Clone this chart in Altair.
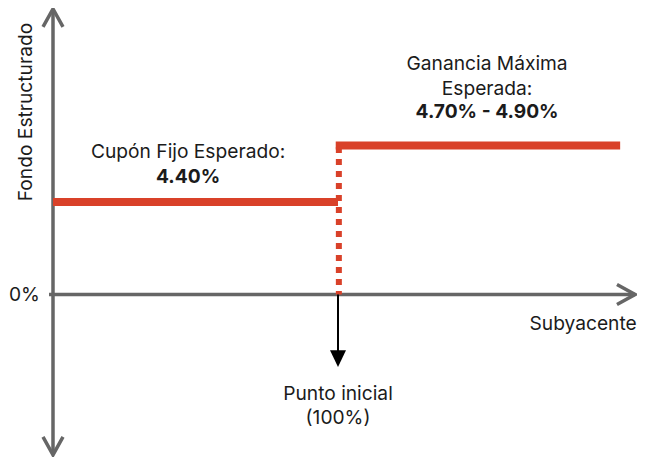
import altair as alt
import pandas as pd

# ---------------- schematic data ----------------
# underlying ("Subyacente") positions: start, initial point (100%), end of payoff line
x_start = 0
x_strike = 100
x_end = 199
# drawn (schematic) fund levels
coupon_level = 4.4        # Cupón Fijo Esperado 4.40%
max_gain_level = 7.1      # Ganancia Máxima Esperada 4.70% - 4.90%
zero_level = 0

# axis extents (schematic units)
y_axis_top = 13.6
y_axis_bottom = -7.64
x_axis_left = -1.4
x_axis_right = 204.2
strike_arrow_tip = -3.45
strike_arrow_line_end = -2.74

RED = "#D94129"
GRAY = "#666666"
INK = "#1b1b1b"
FONT = "Inter"
FS = 19.2

X_DOMAIN = [-15.79, 204.91]
Y_DOMAIN = [-7.738, 13.643]

xs = alt.Scale(domain=X_DOMAIN, nice=False, zero=False)
ys = alt.Scale(domain=Y_DOMAIN, nice=False, zero=False)


def X(field="x"):
    return alt.X(f"{field}:Q", scale=xs, axis=None)


def Y(field="y"):
    return alt.Y(f"{field}:Q", scale=ys, axis=None)


# ---------------- axes ----------------
axis_df = pd.DataFrame({
    "x": [x_start, x_axis_left],
    "x2": [x_start, x_axis_right],
    "y": [y_axis_top, zero_level],
    "y2": [y_axis_bottom, zero_level],
})
axes = alt.Chart(axis_df).mark_rule(color=GRAY, strokeWidth=3.5).encode(
    x=X(), x2="x2:Q", y=Y(), y2="y2:Q"
)

chevron_df = pd.DataFrame({
    "x": [x_start, x_start, x_axis_right],
    "y": [y_axis_top, y_axis_bottom, zero_level],
    "angle": [0, 180, 90],
})
chevrons = alt.Chart(chevron_df).mark_point(
    shape="M-1,1.8L0,0L1,1.8", filled=False, stroke=GRAY, strokeWidth=3.5,
    size=400, opacity=1, strokeJoin="miter"
).encode(x=X(), y=Y(), angle=alt.Angle("angle:Q", scale=None))

# ---------------- payoff lines ----------------
red_df = pd.DataFrame({
    "x": [x_start, x_strike - 0.8],
    "x2": [x_strike, x_end],
    "y": [coupon_level, max_gain_level],
})
red_lines = alt.Chart(red_df).mark_rule(color=RED, strokeWidth=8, strokeCap="butt").encode(
    x=X(), x2="x2:Q", y=Y()
)

dotted_df = pd.DataFrame({"x": [x_strike + 0.3], "y": [max_gain_level], "y2": [zero_level]})
dotted = alt.Chart(dotted_df).mark_rule(
    color=RED, strokeWidth=6, strokeDash=[6, 6], strokeDashOffset=10.4, strokeCap="butt"
).encode(x=X(), y=Y(), y2="y2:Q")

# ---------------- strike arrow ----------------
arrow_df = pd.DataFrame({"x": [x_strike], "y": [zero_level], "y2": [strike_arrow_line_end]})
arrow_line = alt.Chart(arrow_df).mark_rule(color="#000000", strokeWidth=2).encode(
    x=X(), y=Y(), y2="y2:Q"
)
head_df = pd.DataFrame({"x": [x_strike], "y": [strike_arrow_tip]})
arrow_head = alt.Chart(head_df).mark_point(
    shape="M-1,-2.1L1,-2.1L0,0Z", filled=True, color="#000000", size=256, opacity=1
).encode(x=X(), y=Y())

# ---------------- texts ----------------
def text_layer(df, dy=0, bold=False, align="center", angle=0, baseline="alphabetic"):
    return alt.Chart(df).mark_text(
        font=FONT, fontSize=FS, fontWeight=700 if bold else 400, color=INK,
        align=align, baseline=baseline, dy=dy, angle=angle
    ).encode(x=X(), y=Y(), text="t:N")


coupon_x = 47.4
gain_x = 152.3
sub_x = 186

t_coupon1 = text_layer(pd.DataFrame({"x": [coupon_x], "y": [coupon_level], "t": ["Cupón Fijo Esperado:"]}), dy=-44)
t_coupon2 = text_layer(pd.DataFrame({"x": [coupon_x], "y": [coupon_level], "t": ["4.40%"]}), dy=-19, bold=True)
t_gain1 = text_layer(pd.DataFrame({"x": [gain_x], "y": [max_gain_level], "t": ["Ganancia Máxima"]}), dy=-75)
t_gain2 = text_layer(pd.DataFrame({"x": [gain_x], "y": [max_gain_level], "t": ["Esperada:"]}), dy=-50)
t_gain3 = text_layer(pd.DataFrame({"x": [gain_x], "y": [max_gain_level], "t": ["4.70% - 4.90%"]}), dy=-27, bold=True)
t_strike1 = text_layer(pd.DataFrame({"x": [x_strike], "y": [zero_level], "t": ["Punto inicial"]}), dy=105.5)
t_strike2 = text_layer(pd.DataFrame({"x": [x_strike], "y": [zero_level], "t": ["(100%)"]}), dy=129.5)
t_sub = text_layer(pd.DataFrame({"x": [sub_x], "y": [zero_level], "t": ["Subyacente"]}), dy=35.5)
t_zero = text_layer(pd.DataFrame({"x": [-4.6], "y": [zero_level], "t": ["0%"]}), dy=6, align="right")
t_ylab = text_layer(pd.DataFrame({"x": [-7.37], "y": [8.69], "t": ["Fondo Estructurado"]}), angle=270)

chart = alt.layer(
    axes, chevrons, dotted, red_lines, arrow_line, arrow_head,
    t_coupon1, t_coupon2, t_gain1, t_gain2, t_gain3,
    t_strike1, t_strike2, t_sub, t_zero, t_ylab
).properties(
    width=629, height=449,
    autosize=alt.AutoSizeParams(type="none"),
    padding=0,
    background="white",
).configure_view(stroke=None, clip=False)

chart.save("out.html", embed_options={"renderer": "svg", "actions": False})
